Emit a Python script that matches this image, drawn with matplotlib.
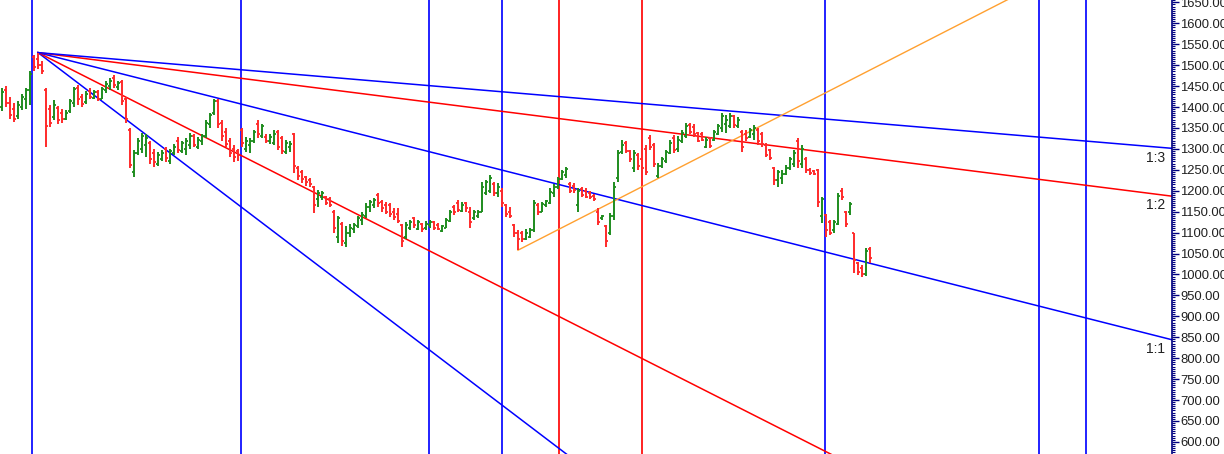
import numpy as np
import matplotlib.pyplot as plt
from matplotlib.ticker import MultipleLocator, FormatStrFormatter

plt.rcParams['font.family'] = ['Liberation Sans', 'DejaVu Sans']

# daily bars (open, high, low, close)
opens = [1400, 1440, 1410, 1395, 1378, 1400, 1420, 1440, 1520, 1515,
         1500, 1440, 1395, 1375, 1398, 1385, 1372, 1390, 1410, 1445,
         1425, 1412, 1438, 1422, 1435, 1420, 1440, 1450, 1470, 1448,
         1460, 1420, 1345, 1245, 1290, 1300, 1310, 1314, 1290, 1265,
         1275, 1300, 1270, 1290, 1320, 1295, 1300, 1310, 1330, 1305,
         1320, 1330, 1360, 1385, 1415, 1362, 1340, 1320, 1300, 1295,
         1345, 1300, 1310, 1320, 1360, 1330, 1328, 1318, 1315, 1340,
         1325, 1292, 1305, 1335, 1255, 1245, 1232, 1225, 1210, 1180,
         1185, 1185, 1180, 1150, 1090, 1120, 1075, 1100, 1108, 1115,
         1130, 1140, 1160, 1165, 1190, 1172, 1165, 1165, 1150, 1145,
         1118, 1090, 1110, 1135, 1108, 1120, 1110, 1118, 1125, 1118,
         1104, 1112, 1128, 1160, 1170, 1152, 1170, 1150, 1135, 1140,
         1150, 1195, 1200, 1215, 1195, 1200, 1165, 1150, 1118, 1100,
         1098, 1085, 1090, 1105, 1165, 1150, 1165, 1170, 1195, 1210,
         1228, 1238, 1215, 1212, 1165, 1205, 1200, 1195, 1188, 1150,
         1134, 1115, 1098, 1140, 1230, 1292, 1315, 1295, 1255, 1285,
         1275, 1300, 1325, 1310, 1235, 1258, 1270, 1290, 1325, 1300,
         1320, 1330, 1358, 1352, 1338, 1335, 1305, 1325, 1322, 1335,
         1350, 1360, 1355, 1378, 1355, 1340, 1335, 1328, 1335, 1345,
         1335, 1310, 1298, 1255, 1225, 1230, 1240, 1255, 1265, 1320,
         1265, 1275, 1250, 1248, 1250, 1140, 1142, 1125, 1105, 1120,
         1200, 1150, 1150, 1099, 1027, 1015, 1000, 1060]
highs = [1445, 1450, 1425, 1410, 1415, 1432, 1445, 1485, 1525, 1530,
         1510, 1445, 1405, 1417, 1402, 1395, 1392, 1420, 1448, 1453,
         1430, 1438, 1445, 1440, 1440, 1448, 1462, 1469, 1476, 1462,
         1465, 1424, 1350, 1297, 1325, 1338, 1335, 1318, 1300, 1292,
         1297, 1305, 1300, 1312, 1328, 1320, 1325, 1338, 1335, 1328,
         1335, 1370, 1385, 1420, 1420, 1370, 1350, 1325, 1310, 1300,
         1350, 1328, 1325, 1345, 1369, 1360, 1335, 1335, 1345, 1345,
         1330, 1321, 1320, 1338, 1258, 1250, 1235, 1230, 1212, 1202,
         1200, 1188, 1185, 1155, 1140, 1125, 1115, 1120, 1123, 1140,
         1148, 1170, 1178, 1182, 1194, 1178, 1172, 1170, 1158, 1158,
         1120, 1125, 1130, 1138, 1130, 1123, 1128, 1130, 1128, 1122,
         1118, 1135, 1154, 1165, 1178, 1172, 1174, 1162, 1154, 1154,
         1221, 1225, 1238, 1220, 1218, 1206, 1168, 1162, 1120, 1106,
         1104, 1108, 1111, 1178, 1170, 1172, 1178, 1206, 1215, 1233,
         1250, 1257, 1221, 1218, 1206, 1208, 1206, 1200, 1192, 1158,
         1142, 1118, 1147, 1221, 1297, 1321, 1318, 1297, 1297, 1290,
         1278, 1309, 1333, 1314, 1266, 1280, 1297, 1321, 1333, 1330,
         1345, 1362, 1362, 1360, 1340, 1340, 1328, 1328, 1345, 1360,
         1385, 1380, 1385, 1381, 1375, 1345, 1345, 1350, 1357, 1350,
         1340, 1314, 1300, 1257, 1250, 1250, 1261, 1281, 1297, 1326,
         1310, 1281, 1255, 1250, 1252, 1185, 1145, 1130, 1130, 1194,
         1206, 1152, 1173, 1100, 1030, 1023, 1063, 1066]
lows = [1390, 1400, 1372, 1365, 1372, 1392, 1395, 1405, 1485, 1492,
        1478, 1305, 1352, 1370, 1360, 1362, 1368, 1385, 1400, 1405,
        1400, 1408, 1420, 1418, 1415, 1418, 1433, 1440, 1445, 1440,
        1405, 1362, 1255, 1233, 1285, 1290, 1280, 1265, 1257, 1260,
        1270, 1268, 1265, 1285, 1290, 1290, 1285, 1300, 1305, 1300,
        1310, 1325, 1350, 1380, 1350, 1320, 1305, 1280, 1268, 1270,
        1305, 1292, 1290, 1315, 1325, 1325, 1314, 1312, 1310, 1297,
        1288, 1288, 1292, 1242, 1225, 1218, 1212, 1208, 1146, 1160,
        1178, 1165, 1160, 1100, 1075, 1068, 1065, 1090, 1098, 1110,
        1118, 1135, 1150, 1158, 1162, 1150, 1145, 1138, 1130, 1123,
        1065, 1085, 1105, 1110, 1106, 1102, 1105, 1112, 1106, 1105,
        1102, 1110, 1125, 1142, 1150, 1150, 1150, 1112, 1130, 1135,
        1148, 1190, 1195, 1188, 1185, 1160, 1138, 1134, 1090, 1058,
        1078, 1082, 1088, 1102, 1142, 1148, 1162, 1168, 1185, 1205,
        1225, 1230, 1195, 1194, 1150, 1185, 1182, 1180, 1176, 1118,
        1130, 1065, 1094, 1130, 1221, 1288, 1290, 1268, 1245, 1250,
        1250, 1238, 1297, 1257, 1230, 1255, 1266, 1288, 1290, 1292,
        1315, 1326, 1335, 1328, 1316, 1318, 1302, 1302, 1320, 1332,
        1340, 1338, 1350, 1350, 1350, 1292, 1318, 1325, 1321, 1310,
        1304, 1280, 1273, 1214, 1210, 1215, 1238, 1250, 1257, 1254,
        1255, 1242, 1238, 1238, 1161, 1122, 1090, 1095, 1099, 1118,
        1178, 1114, 1142, 1003, 999, 995, 997, 1027]
closes = [1435, 1410, 1380, 1372, 1405, 1425, 1440, 1478, 1495, 1500,
          1485, 1355, 1362, 1405, 1368, 1372, 1385, 1415, 1442, 1418,
          1408, 1432, 1425, 1435, 1420, 1442, 1455, 1462, 1452, 1458,
          1415, 1372, 1262, 1290, 1318, 1330, 1325, 1275, 1268, 1285,
          1290, 1278, 1295, 1305, 1298, 1315, 1318, 1330, 1310, 1322,
          1330, 1362, 1380, 1415, 1360, 1330, 1312, 1290, 1280, 1285,
          1315, 1320, 1318, 1340, 1335, 1355, 1318, 1328, 1335, 1305,
          1295, 1315, 1312, 1260, 1235, 1228, 1220, 1215, 1165, 1195,
          1195, 1170, 1165, 1110, 1135, 1080, 1100, 1112, 1118, 1135,
          1142, 1162, 1172, 1178, 1170, 1158, 1150, 1145, 1138, 1128,
          1080, 1118, 1125, 1118, 1125, 1108, 1120, 1125, 1110, 1108,
          1115, 1130, 1148, 1148, 1155, 1165, 1158, 1125, 1148, 1150,
          1210, 1220, 1230, 1195, 1210, 1170, 1145, 1140, 1098, 1085,
          1085, 1100, 1105, 1170, 1150, 1168, 1175, 1198, 1210, 1228,
          1245, 1252, 1200, 1202, 1200, 1190, 1186, 1184, 1180, 1125,
          1140, 1080, 1140, 1210, 1290, 1310, 1295, 1275, 1290, 1258,
          1255, 1245, 1305, 1265, 1260, 1275, 1292, 1315, 1298, 1322,
          1338, 1355, 1340, 1335, 1320, 1322, 1322, 1308, 1340, 1355,
          1378, 1370, 1378, 1358, 1370, 1305, 1325, 1345, 1350, 1318,
          1312, 1285, 1278, 1225, 1245, 1240, 1255, 1275, 1290, 1270,
          1300, 1250, 1242, 1240, 1172, 1180, 1105, 1100, 1125, 1188,
          1185, 1120, 1168, 1035, 1005, 1000, 1055, 1040]

# time cycle lines (bar positions)
blue_cycles = [7.6, 59.75, 106.7, 125.1, 205.75, 259.25, 271.0]
red_cycles = [139.2, 160.1]

# gann fan from the top bar
fan_start = 9
fan_price = 1530
fan_unit = 2.42  # price per bar for 1:1
fan_ratios = [3, 2, 1, 1 / 2, 1 / 3]
fan_names = ['3:1', '2:1', '1:1', '1:2', '1:3']
fan_colors = ['blue', 'red', 'blue', 'red', 'blue']

# trend line from the low
trend_start = 129
trend_price = 1058
trend_slope = 4.89

fig = plt.figure(figsize=(12.24, 4.54), dpi=100)
ax = fig.add_axes([0, 0, 1172 / 1224, 1])

x = np.arange(len(closes))
o = np.array(opens)
c = np.array(closes)
cols = np.where(c >= o, '#1e8c1e', '#ff2a2a')
ax.vlines(x, lows, highs, colors=cols, lw=1.4, zorder=3)
ax.hlines(o, x - 0.6, x, colors=cols, lw=1.3, zorder=3)
ax.hlines(c, x, x + 0.6, colors=cols, lw=1.3, zorder=3)

for v in blue_cycles:
    ax.axvline(v, color='#1010ff', lw=1.3, zorder=2)
for v in red_cycles:
    ax.axvline(v, color='#ff1010', lw=1.3, zorder=2)

x_end = 292.5
for r, name, col in zip(fan_ratios, fan_names, fan_colors):
    y_end = fan_price - r * fan_unit * (x_end - fan_start)
    ax.plot([fan_start, x_end], [fan_price, y_end], color=col, lw=1.1, zorder=2)
    if y_end > 600:
        ax.text(x_end - 1.8, y_end - 22, name, ha='right', va='center',
                fontsize=10, color='#202020')

ax.plot([trend_start, 262], [trend_price, trend_price + trend_slope * (262 - trend_start)],
        color='#ffa030', lw=1.0, zorder=2)

ax.set_xlim(-0.5, x_end)
ax.set_ylim(571, 1655.7)

for s in ['left', 'top', 'bottom']:
    ax.spines[s].set_visible(False)
ax.spines['right'].set_color('#000080')
ax.spines['right'].set_linewidth(1.2)
ax.set_xticks([])
ax.yaxis.tick_right()
ax.yaxis.set_major_locator(MultipleLocator(50))
ax.yaxis.set_minor_locator(MultipleLocator(5))
ax.yaxis.set_major_formatter(FormatStrFormatter('%.2f'))
ax.tick_params(axis='y', which='major', length=5, width=1, color='#000080',
               labelsize=9.4, pad=1, labelcolor='#202020')
ax.tick_params(axis='y', which='minor', length=2, width=0.8, color='#000080')

fig.savefig('out.png', dpi=100)
